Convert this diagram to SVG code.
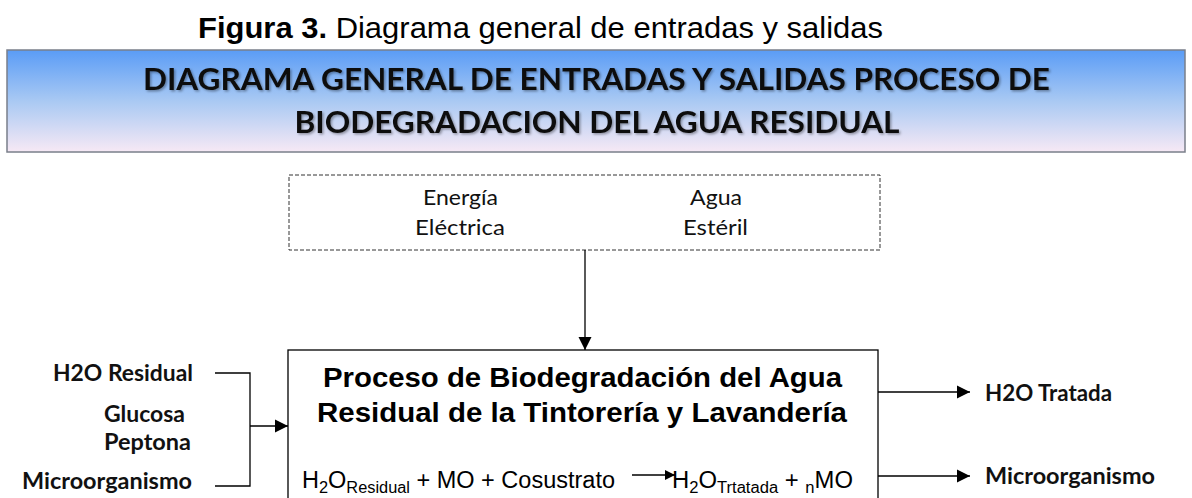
<svg xmlns="http://www.w3.org/2000/svg" width="1192" height="498" viewBox="0 0 1192 498">
<defs>
<linearGradient id="hg" x1="0" y1="0" x2="0" y2="1">
<stop offset="0" stop-color="#5a9cf6"/>
<stop offset="0.5" stop-color="#a9c9f3"/>
<stop offset="1" stop-color="#f7e9f5"/>
</linearGradient>
<marker id="ah" viewBox="0 0 10 10" refX="10" refY="5" markerWidth="10" markerHeight="11" markerUnits="userSpaceOnUse" orient="auto">
<path d="M0,0 L10,5 L0,10 z" fill="#000"/>
</marker>
<marker id="ahb" viewBox="0 0 10 10" refX="10" refY="5" markerWidth="13" markerHeight="14" markerUnits="userSpaceOnUse" orient="auto">
<path d="M0,0 L10,5 L0,10 z" fill="#000"/>
</marker>
<filter id="sh" x="-5%" y="-20%" width="110%" height="140%">
<feDropShadow dx="1.5" dy="1.5" stdDeviation="0.8" flood-color="#000" flood-opacity="0.35"/>
</filter>
</defs>
<style>
.cal{font-family:Lato,"Open Sans",sans-serif;fill:#111}
.ar{font-family:"Liberation Sans",Arial,sans-serif;fill:#000}
.ln{stroke:#000;stroke-width:1.3;fill:none}
.lbl{font-family:Lato,"Open Sans",sans-serif;fill:#111;font-size:22px;font-weight:bold}
</style>
<rect width="1192" height="498" fill="#fff"/>
<text x="198" y="38" class="ar" font-size="29" textLength="685" lengthAdjust="spacingAndGlyphs"><tspan font-weight="bold">Figura 3.</tspan> Diagrama general de entradas y salidas</text>
<g id="header">
<rect x="7" y="50" width="1178" height="102" fill="url(#hg)" stroke="#7a7f8a" stroke-width="1.5"/>
<g filter="url(#sh)">
<text x="596.5" y="90" class="cal" font-size="31" font-weight="bold" text-anchor="middle" textLength="907" lengthAdjust="spacingAndGlyphs">DIAGRAMA GENERAL DE ENTRADAS Y SALIDAS PROCESO DE</text>
<text x="597" y="133" class="cal" font-size="31" font-weight="bold" text-anchor="middle" textLength="605" lengthAdjust="spacingAndGlyphs">BIODEGRADACION DEL AGUA RESIDUAL</text>
</g>
</g>
<g id="inputs-top">
<rect x="289" y="175" width="591" height="75" fill="none" stroke="#333" stroke-width="1" stroke-dasharray="4,2"/>
<text x="460.5" y="205" class="cal" font-size="22" text-anchor="middle" textLength="75" lengthAdjust="spacingAndGlyphs">Energía</text>
<text x="460" y="235" class="cal" font-size="22" text-anchor="middle" textLength="90" lengthAdjust="spacingAndGlyphs">Eléctrica</text>
<text x="716" y="205" class="cal" font-size="22" text-anchor="middle" textLength="52" lengthAdjust="spacingAndGlyphs">Agua</text>
<text x="715.5" y="235" class="cal" font-size="22" text-anchor="middle" textLength="65" lengthAdjust="spacingAndGlyphs">Estéril</text>
</g>
<g id="process">
<rect x="288" y="350" width="590" height="160" fill="#fff" stroke="#000" stroke-width="1.3"/>
<text x="323" y="387" class="ar" font-size="27" font-weight="bold" textLength="519" lengthAdjust="spacingAndGlyphs">Proceso de Biodegradación del Agua</text>
<text x="317" y="422" class="ar" font-size="27" font-weight="bold" textLength="530" lengthAdjust="spacingAndGlyphs">Residual de la Tintorería y Lavandería</text>
<text x="302" y="488" class="ar" font-size="23" textLength="313" lengthAdjust="spacingAndGlyphs">H<tspan font-size="16" dy="5">2</tspan><tspan dy="-5">O</tspan><tspan font-size="16" dy="5">Residual</tspan><tspan dy="-5"> + MO + Cosustrato</tspan></text>
<text x="672" y="488" class="ar" font-size="23" textLength="181" lengthAdjust="spacingAndGlyphs">H<tspan font-size="16" dy="5">2</tspan><tspan dy="-5">O</tspan><tspan font-size="16" dy="5">Trtatada</tspan><tspan dy="-5"> + </tspan><tspan font-size="16" dy="5">n</tspan><tspan dy="-5">MO</tspan></text>
<line x1="632" y1="475" x2="675" y2="475" class="ln" marker-end="url(#ah)"/>
</g>
<g id="inputs-left">
<text x="193" y="381" class="lbl" text-anchor="end" textLength="140" lengthAdjust="spacingAndGlyphs">H2O Residual</text>
<text x="185" y="422" class="lbl" text-anchor="end" textLength="81" lengthAdjust="spacingAndGlyphs">Glucosa</text>
<text x="191" y="450" class="lbl" text-anchor="end" textLength="87" lengthAdjust="spacingAndGlyphs">Peptona</text>
<text x="192" y="489" class="lbl" text-anchor="end" textLength="170" lengthAdjust="spacingAndGlyphs">Microorganismo</text>
</g>
<g id="outputs-right">
<text x="985" y="401" class="lbl" textLength="127" lengthAdjust="spacingAndGlyphs">H2O Tratada</text>
<text x="985" y="484" class="lbl" textLength="170" lengthAdjust="spacingAndGlyphs">Microorganismo</text>
</g>
<g id="connectors">
<line x1="585" y1="250" x2="585" y2="350" class="ln" marker-end="url(#ahb)"/>
<polyline points="215,373 250,373 250,486 215,486" class="ln"/>
<line x1="250" y1="426" x2="288" y2="426" class="ln" marker-end="url(#ahb)"/>
<line x1="878" y1="392" x2="970" y2="392" class="ln" marker-end="url(#ahb)"/>
<line x1="878" y1="476" x2="970" y2="476" class="ln" marker-end="url(#ahb)"/>
</g>
</svg>
